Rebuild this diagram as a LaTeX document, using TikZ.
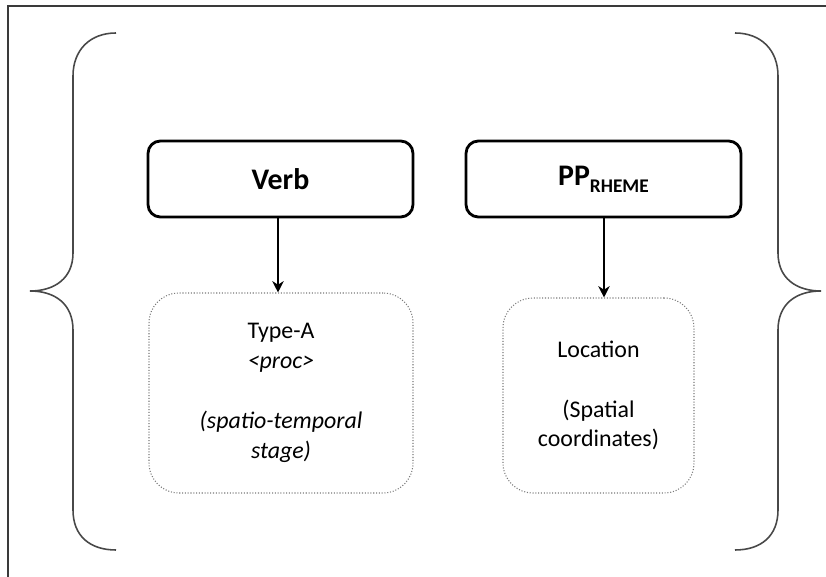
\documentclass[tikz,border=0pt]{standalone}
\usepackage{fontspec}
\setmainfont{Carlito}
\usepackage{xcolor}
\usetikzlibrary{arrows.meta, positioning}

\definecolor{framegray}{HTML}{3A3A3A}
\definecolor{bracegray}{HTML}{484848}
\definecolor{dotgray}{HTML}{7A7A7A}

\begin{document}
\begin{tikzpicture}[x=0.02cm, y=-0.02cm,
  headbox/.style={draw, line width=1.6pt, rounded corners=7pt, minimum height=1.52cm, align=center, font=\fontsize{17}{20}\selectfont\bfseries},
  sensebox/.style={draw=dotgray, densely dotted, line width=0.6pt, rounded corners=17pt, align=center, font=\fontsize{13.6}{17}\selectfont},
  brace/.style={draw=bracegray, line width=0.9pt},
  link/.style={-{Stealth[length=6.5pt, width=6.5pt]}, line width=0.6pt},
]
\useasboundingbox (0,0) rectangle (826,577);

% cropped outer frame
\draw[framegray, line width=0.8pt] (8,577) -- (8,6) -- (826,6);

% heads
\node[headbox, minimum width=5.3cm] (verb) at (280.5,179) {Verb};
\node[headbox, minimum width=5.5cm] (pp) at (603.5,179) {PP\raisebox{-4pt}{\fontsize{11}{11}\selectfont RHEME}};

% readings
\node[sensebox, minimum width=5.28cm, minimum height=4cm] (typea) at (281,393)
  {Type-A\\\textit{<proc>}\\[0.6cm]\textit{(spatio-temporal}\\\textit{stage)}};
\node[sensebox, minimum width=3.82cm, minimum height=3.9cm] (loc) at (598.5,395.5)
  {Location\\[0.6cm](Spatial\\coordinates)};

% arrows
\draw[link] (verb.south -| 278,0) -- (typea.north -| 278,0);
\draw[link] (pp.south -| 604,0) -- (loc.north -| 604,0);

% braces
\draw[brace] (116,33) .. controls (90,33) and (73,50) .. (73,76) -- (73,253)
  .. controls (73,278) and (55,291) .. (30,291)
  .. controls (55,291) and (73,304) .. (73,330) -- (73,510)
  .. controls (73,536) and (90,550) .. (116,550);
\draw[brace] (735,33) .. controls (761,33) and (778,50) .. (778,76) -- (778,253)
  .. controls (778,278) and (796,291) .. (821,291)
  .. controls (796,291) and (778,304) .. (778,330) -- (778,510)
  .. controls (778,536) and (761,550) .. (735,550);

\end{tikzpicture}
\end{document}
